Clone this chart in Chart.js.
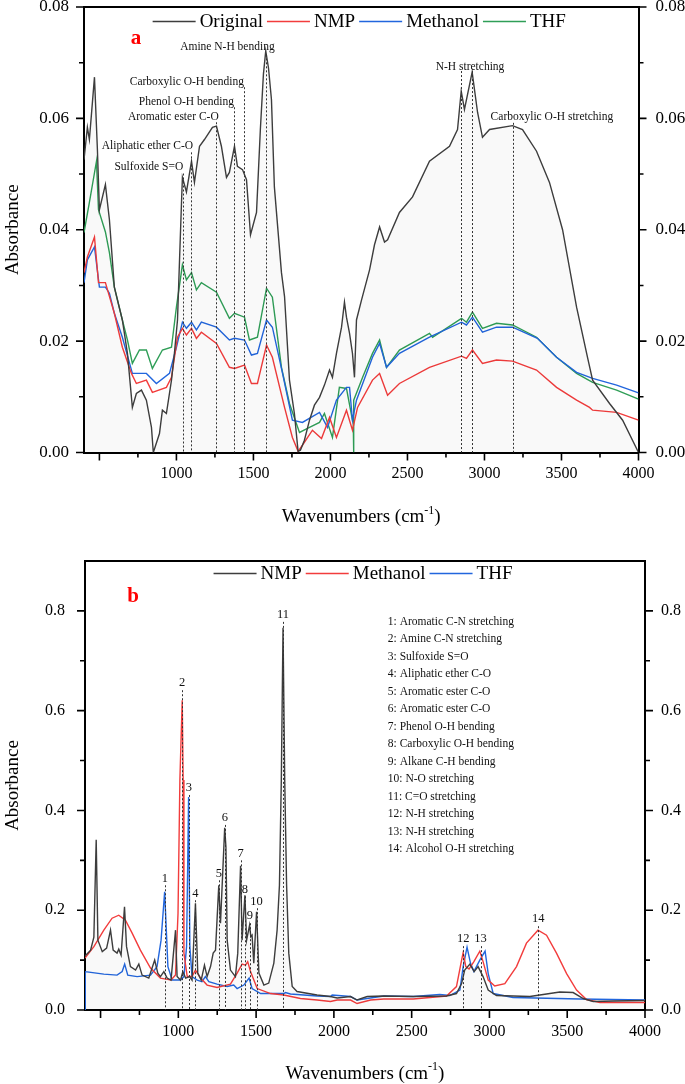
<!DOCTYPE html>
<html lang="en">
<head>
<meta charset="UTF-8">
<title>FTIR spectra</title>
<script src="https://cdn.jsdelivr.net/npm/chart.js@4"></script>
<style>
  body { margin: 0; background: #fff; }
  .panel { position: relative; width: 685px; }
  #panelA { height: 550px; }
  #panelB { height: 534px; }
</style>
</head>
<body>
<div class="panel" id="panelA"><canvas id="chartA"></canvas></div>
<div class="panel" id="panelB"><canvas id="chartB"></canvas></div>

<script>
// ---------- panel a : wavenumber (cm-1) / absorbance ----------
const origWn = [400,422,435,468,487,500,539,565,597,649,682,714,740,773,805,838,850,890,909,935,968,987,1007,1033,1039,1065,1098,1117,1150,1182,1234,1260,1292,1325,1344,1377,1396,1429,1455,1481,1520,1545,1565,1580,1598,1617,1636,1682,1702,1734,1766,1790,1805,1831,1864,1896,1929,1961,1994,2013,2039,2072,2091,2104,2124,2143,2156,2169,2202,2254,2286,2319,2351,2371,2448,2533,2643,2773,2825,2849,2870,2920,2955,2987,3033,3182,3247,3338,3422,3507,3598,3669,3702,3812,3897,4000];
const origAbs = [0.0526,0.0584,0.0562,0.0674,0.0544,0.0436,0.0481,0.0418,0.0297,0.0238,0.0178,0.0081,0.0106,0.0112,0.0094,0.0045,0.0,0.0034,0.0076,0.0070,0.0130,0.0178,0.0238,0.0449,0.0494,0.0468,0.0523,0.0485,0.0550,0.0562,0.0584,0.0586,0.0550,0.0494,0.0503,0.0550,0.0514,0.0508,0.0490,0.0391,0.0431,0.0580,0.0680,0.0721,0.0690,0.0634,0.0477,0.0323,0.0280,0.0130,0.0070,0.0002,0.0004,0.0022,0.0058,0.0085,0.0099,0.0121,0.0148,0.0135,0.0178,0.0225,0.0270,0.0243,0.0214,0.0178,0.0135,0.0238,0.0274,0.0328,0.0373,0.0405,0.0378,0.0382,0.0431,0.0459,0.0523,0.0550,0.0580,0.0649,0.0616,0.0683,0.0611,0.0566,0.0580,0.0587,0.0580,0.0541,0.0485,0.0400,0.0261,0.0171,0.0130,0.0088,0.0058,0.0];

const nmpWnA = [400,422,468,494,539,597,649,708,740,805,844,935,968,1007,1039,1065,1098,1130,1162,1260,1344,1377,1442,1487,1526,1585,1623,1702,1753,1790,1818,1883,1942,1994,2039,2104,2143,2176,2273,2319,2371,2448,2643,2851,2883,2922,2987,3078,3182,3338,3468,3598,3682,3702,3858,4000];
const nmpAbsA = [0.0323,0.0351,0.0387,0.0305,0.0305,0.0250,0.0189,0.0142,0.0124,0.0130,0.0108,0.0117,0.0135,0.0207,0.0223,0.0211,0.0223,0.0205,0.0216,0.0196,0.0153,0.0151,0.0157,0.0124,0.0124,0.0193,0.0171,0.0081,0.0027,0.0002,0.0013,0.0040,0.0025,0.0063,0.0027,0.0076,0.0040,0.0081,0.0130,0.0142,0.0103,0.0124,0.0153,0.0173,0.0169,0.0184,0.0160,0.0166,0.0164,0.0148,0.0117,0.0094,0.0081,0.0076,0.0072,0.0058];

const methWnA = [400,422,468,500,539,565,597,649,714,805,870,955,1000,1039,1065,1098,1130,1162,1260,1344,1377,1442,1487,1526,1585,1623,1689,1753,1818,1929,1981,2039,2104,2124,2143,2169,2273,2319,2364,2448,2643,2851,2883,2922,2987,3078,3182,3344,3468,3598,3702,3858,4000];
const methAbsA = [0.0305,0.0346,0.0369,0.0297,0.0297,0.0286,0.0250,0.0207,0.0142,0.0142,0.0124,0.0142,0.0189,0.0234,0.0223,0.0234,0.0220,0.0234,0.0225,0.0202,0.0205,0.0202,0.0175,0.0178,0.0238,0.0225,0.0142,0.0058,0.0054,0.0072,0.0045,0.0094,0.0117,0.0117,0.0058,0.0094,0.0171,0.0196,0.0153,0.0178,0.0207,0.0234,0.0229,0.0243,0.0216,0.0225,0.0225,0.0205,0.0171,0.0144,0.0133,0.0121,0.0107];

const thfWnA = [400,435,481,494,539,565,597,649,682,714,760,805,844,909,968,1000,1039,1065,1098,1130,1162,1260,1344,1377,1442,1474,1526,1585,1623,1682,1734,1799,1864,1929,1961,2013,2058,2104,2143,2148,2150,2152,2209,2273,2319,2364,2448,2643,2663,2851,2883,2922,2987,3078,3182,3338,3468,3598,3702,3858,4000];
const thfAbsA = [0.0395,0.0449,0.0523,0.0436,0.0396,0.0359,0.0297,0.0238,0.0202,0.0160,0.0184,0.0184,0.0151,0.0184,0.0189,0.0261,0.0337,0.0310,0.0323,0.0292,0.0305,0.0288,0.0241,0.0250,0.0243,0.0202,0.0207,0.0295,0.0279,0.0153,0.0088,0.0036,0.0045,0.0054,0.0070,0.0027,0.0117,0.0115,0.0058,0.0055,0.0,0.0094,0.0135,0.0178,0.0202,0.0153,0.0184,0.0214,0.0207,0.0241,0.0234,0.0252,0.0223,0.0232,0.0229,0.0207,0.0171,0.0142,0.0126,0.0112,0.0096];

// band markers of panel a (dashed lines) and their labels
const markWnA  = [1040, 1097, 1260, 1377, 1440, 1580, 2849, 2920, 3182];
const markTopA = [0.0501, 0.0539, 0.0593, 0.0620, 0.0656, 0.0715, 0.0685, 0.0685, 0.0592];
const bandTextA = ['Sulfoxide S=O', 'Aliphatic ether C-O', 'Aromatic ester C-O', 'Phenol O-H bending',
                   'Carboxylic O-H bending', 'Amine N-H bending', 'N-H stretching', 'Carboxylic O-H stretching'];
const bandWnA  = [821, 812, 980, 1065, 1068, 1331, 2906, 3438];
const bandAbsA = [0.0512, 0.0550, 0.0602, 0.0629, 0.0665, 0.0728, 0.0692, 0.0602];

// ---------- panel b ----------
const nmpWnB = [400,436,457,472,483,511,539,564,581,606,617,632,654,667,692,725,746,767,810,848,868,885,907,928,953,982,992,1014,1029,1047,1073,1088,1110,1125,1147,1168,1185,1207,1224,1239,1260,1271,1298,1306,1314,1335,1367,1382,1400,1410,1428,1439,1458,1466,1474,1485,1503,1518,1550,1581,1614,1635,1650,1662,1673,1684,1696,1710,1732,1763,1892,1978,2021,2107,2149,2214,2321,2510,2724,2788,2821,2841,2874,2902,2927,2959,2992,3045,3260,3367,3452,3538,3603,3667,3800,4000];
const nmpAbsB = [0.108,0.120,0.146,0.341,0.140,0.117,0.124,0.160,0.120,0.114,0.122,0.110,0.207,0.127,0.087,0.080,0.092,0.070,0.064,0.100,0.074,0.067,0.077,0.064,0.060,0.160,0.067,0.060,0.077,0.064,0.067,0.060,0.214,0.074,0.060,0.090,0.067,0.087,0.114,0.120,0.250,0.174,0.365,0.327,0.140,0.080,0.067,0.114,0.289,0.140,0.230,0.140,0.170,0.147,0.150,0.094,0.197,0.074,0.050,0.054,0.094,0.160,0.250,0.460,0.766,0.460,0.250,0.114,0.047,0.037,0.030,0.027,0.024,0.027,0.020,0.027,0.028,0.027,0.028,0.033,0.053,0.080,0.092,0.077,0.087,0.067,0.040,0.029,0.027,0.032,0.036,0.035,0.023,0.017,0.018,0.019];

const methWnB = [400,457,521,574,617,660,703,756,821,885,953,982,998,1010,1025,1031,1036,1057,1088,1110,1143,1185,1249,1335,1378,1410,1432,1446,1464,1507,1593,1678,1785,1892,1978,2021,2107,2149,2236,2321,2510,2724,2788,2821,2831,2848,2869,2900,2938,2959,2992,3034,3099,3174,3238,3312,3367,3431,3496,3560,3624,3711,4000];
const methAbsB = [0.104,0.127,0.160,0.184,0.190,0.180,0.154,0.120,0.084,0.064,0.060,0.070,0.194,0.461,0.621,0.461,0.114,0.067,0.067,0.080,0.064,0.050,0.045,0.052,0.074,0.092,0.090,0.097,0.077,0.043,0.033,0.030,0.023,0.020,0.017,0.020,0.020,0.013,0.020,0.022,0.022,0.028,0.047,0.100,0.115,0.087,0.082,0.097,0.118,0.097,0.060,0.048,0.053,0.087,0.134,0.160,0.150,0.114,0.073,0.040,0.021,0.015,0.015];

const thfWnB = [400,401,403,521,606,639,655,675,735,821,863,889,912,920,933,960,1014,1036,1053,1066,1074,1088,1121,1152,1174,1196,1249,1314,1356,1378,1421,1455,1474,1529,1678,1689,1721,1892,1978,1989,2107,2149,2321,2510,2681,2745,2810,2831,2856,2878,2900,2938,2972,2992,3024,3152,3581,4000];
const thfAbsB = [0,0.078,0.077,0.072,0.070,0.077,0.092,0.070,0.067,0.070,0.087,0.140,0.237,0.180,0.087,0.060,0.060,0.067,0.127,0.427,0.127,0.067,0.060,0.057,0.067,0.057,0.052,0.047,0.050,0.043,0.050,0.064,0.043,0.033,0.033,0.035,0.032,0.028,0.027,0.030,0.027,0.020,0.028,0.027,0.031,0.029,0.040,0.087,0.126,0.094,0.077,0.100,0.118,0.073,0.033,0.025,0.022,0.020];

const markWnB  = [913, 1025, 1067, 1110, 1260, 1299, 1400, 1428, 1460, 1503, 1673, 2831, 2943, 3313];
const markTopB = [0.25, 0.641, 0.431, 0.22, 0.26, 0.371, 0.30, 0.228, 0.174, 0.204, 0.778, 0.128, 0.128, 0.168];
const markNumB = ['1','2','3','4','5','6','7','8','9','10','11','12','13','14'];
const bandListB = ['1: Aromatic C-N stretching', '2: Amine C-N stretching', '3: Sulfoxide S=O',
  '4: Aliphatic ether C-O', '5: Aromatic ester C-O', '6: Aromatic ester C-O', '7: Phenol O-H bending',
  '8: Carboxylic O-H bending', '9: Alkane C-H bending', '10: N-O stretching', '11: C=O stretching',
  '12: N-H stretching', '13: N-H stretching', '14: Alcohol O-H stretching'];

const SERIF = '"Liberation Serif", "Times New Roman", serif';
const C_DARK = '#3d3d3d', C_RED = '#f23c3c', C_BLUE = '#2266dd', C_GREEN = '#2f9e57';

Chart.defaults.font.family = SERIF;
Chart.defaults.color = '#000';

function pts(xs, ys) { return xs.map((x, i) => ({ x: x, y: ys[i] })); }

function series(label, wn, abs, color, filled) {
  return {
    label: label, data: pts(wn, abs), borderColor: color, borderWidth: 1.4,
    pointRadius: 0, tension: 0, fill: filled ? 'origin' : false,
    backgroundColor: filled ? 'rgba(0,0,0,0.025)' : 'transparent'
  };
}

// draws frame top, tick marks, markers, labels, legend and titles
const decoPlugin = {
  id: 'deco',
  afterDraw(chart, args, o) {
    const { ctx, chartArea: a } = chart;
    const xs = chart.scales.x, ys = chart.scales.y;
    ctx.save();
    ctx.strokeStyle = '#000';
    ctx.lineWidth = 2;
    ctx.beginPath();
    ctx.moveTo(a.left - 1, a.top); ctx.lineTo(a.right + 1, a.top);
    ctx.stroke();

    ctx.lineWidth = 1.6;
    ctx.beginPath();
    for (let v = 500; v <= 4000; v += 250) {
      const px = xs.getPixelForValue(v), len = v % 500 === 0 ? 8 : 5;
      ctx.moveTo(px, a.bottom); ctx.lineTo(px, a.bottom + len);
    }
    for (let i = 0; i <= o.yCount; i++) {
      const py = ys.getPixelForValue(i * o.yStep), len = i % 2 === 0 ? 8 : 5;
      ctx.moveTo(a.left - len, py); ctx.lineTo(a.left, py);
      ctx.moveTo(a.right, py); ctx.lineTo(a.right + len, py);
    }
    ctx.stroke();

    // dashed band markers
    ctx.setLineDash([2, 2]);
    ctx.lineWidth = 1;
    ctx.strokeStyle = '#333';
    o.markWn.forEach((w, i) => {
      const px = Math.round(xs.getPixelForValue(w)) + 0.5;
      ctx.beginPath();
      ctx.moveTo(px, ys.getPixelForValue(o.markTop[i]));
      ctx.lineTo(px, a.bottom);
      ctx.stroke();
    });
    ctx.setLineDash([]);

    ctx.fillStyle = '#111';
    ctx.textAlign = 'center';
    ctx.textBaseline = 'middle';
    if (o.markNum) {
      ctx.font = '12.5px ' + SERIF;
      o.markNum.forEach((t, i) => {
        ctx.fillText(t, xs.getPixelForValue(o.markWn[i]), ys.getPixelForValue(o.markTop[i]) - 7);
      });
    }
    if (o.bandText) {
      ctx.font = '11.5px ' + SERIF;
      o.bandText.forEach((t, i) => {
        ctx.fillText(t, xs.getPixelForValue(o.bandWn[i]), ys.getPixelForValue(o.bandAbs[i]));
      });
    }
    if (o.list) {
      ctx.font = '11.5px ' + SERIF;
      ctx.textAlign = 'left';
      const x0 = xs.getPixelForValue(o.listWn), y0 = ys.getPixelForValue(o.listAbs);
      o.list.forEach((t, i) => ctx.fillText(t, x0, y0 + i * 17.5));
    }

    // legend inside the plot
    ctx.font = '19px ' + SERIF;
    ctx.textAlign = 'left';
    const ds = chart.data.datasets;
    let total = 0;
    ds.forEach(d => { total += 43 + 4 + ctx.measureText(d.label).width; });
    total += 4 * (ds.length - 1);
    let lx = (a.left + a.right) / 2 - 2 - total / 2;
    const ly = a.top + o.legendDy;
    ds.forEach(d => {
      ctx.strokeStyle = d.borderColor; ctx.lineWidth = 1.3;
      ctx.beginPath(); ctx.moveTo(lx, ly); ctx.lineTo(lx + 43, ly); ctx.stroke();
      ctx.fillStyle = '#000';
      ctx.fillText(d.label, lx + 47, ly + 1);
      lx += 47 + ctx.measureText(d.label).width + 4;
    });

    // panel letter
    ctx.fillStyle = '#ff0000';
    ctx.font = 'bold 21px ' + SERIF;
    ctx.textAlign = 'center';
    ctx.fillText(o.letter, o.letterX, a.top + o.letterDy);

    // axis titles
    ctx.fillStyle = '#000';
    ctx.font = '19px ' + SERIF;
    ctx.save();
    ctx.translate(13, (a.top + a.bottom) / 2);
    ctx.rotate(-Math.PI / 2);
    ctx.fillText('Absorbance', 0, 0);
    ctx.restore();

    const t1 = 'Wavenumbers (cm', t2 = '-1', t3 = ')';
    ctx.font = '19px ' + SERIF;
    const w1 = ctx.measureText(t1).width, w3 = ctx.measureText(t3).width;
    ctx.font = '12px ' + SERIF;
    const w2 = ctx.measureText(t2).width;
    let tx = (a.left + a.right) / 2 - (w1 + w2 + w3) / 2;
    const ty = a.bottom + o.titleDy;
    ctx.textAlign = 'left';
    ctx.font = '19px ' + SERIF;
    ctx.fillText(t1, tx, ty);
    ctx.font = '12px ' + SERIF;
    ctx.fillText(t2, tx + w1, ty - 7);
    ctx.font = '19px ' + SERIF;
    ctx.fillText(t3, tx + w1 + w2, ty);
    ctx.restore();
  }
};

function makeChart(id, datasets, cfg) {
  const yTicks = (pad) => ({
    stepSize: cfg.yStep, padding: pad, font: { size: cfg.yFont },
    callback: v => Math.round(v / cfg.yStep) % 2 === 0 ? v.toFixed(cfg.yDigits) : ''
  });
  const yScale = (pos, width, pad) => ({
    type: 'linear', position: pos, min: 0, max: cfg.yMax,
    grid: { display: false, drawTicks: false },
    border: { display: true, width: 2, color: '#000' },
    ticks: yTicks(pad),
    afterFit: s => { s.width = width; s.paddingTop = 0; s.paddingBottom = 0; }
  });
  return new Chart(document.getElementById(id), {
    type: 'line',
    data: { datasets: datasets },
    options: {
      responsive: true, maintainAspectRatio: false, animation: false, devicePixelRatio: 1,
      layout: { padding: { top: cfg.top, left: 0, right: 0, bottom: 0 } },
      scales: {
        x: {
          type: 'linear', min: 400, max: 4000,
          grid: { display: false, drawTicks: false },
          border: { display: true, width: 2, color: '#000' },
          ticks: { stepSize: 250, autoSkip: false, maxRotation: 0, padding: 12, font: { size: 16 },
                   callback: v => v % 500 === 0 ? String(v) : '' },
          afterFit: s => { s.height = cfg.xHeight; s.paddingLeft = 0; s.paddingRight = 0; }
        },
        y: yScale('left', cfg.left, cfg.padL),
        y2: yScale('right', cfg.right, cfg.padR)
      },
      plugins: { legend: { display: false }, tooltip: { enabled: false }, deco: cfg.deco }
    },
    plugins: [decoPlugin]
  });
}

makeChart('chartA', [
  series('Original', origWn, origAbs, C_DARK, true),
  series('NMP', nmpWnA, nmpAbsA, C_RED, false),
  series('Methanol', methWnA, methAbsA, C_BLUE, false),
  series('THF', thfWnA, thfAbsA, C_GREEN, false)
], {
  top: 7, xHeight: 97.5, left: 84, right: 46.5, padL: 15, padR: 17,
  yMax: 0.08, yStep: 0.01, yDigits: 2, yFont: 17,
  deco: { yCount: 8, yStep: 0.01, markWn: markWnA, markTop: markTopA,
          bandText: bandTextA, bandWn: bandWnA, bandAbs: bandAbsA,
          legendDy: 14.5, letter: 'a', letterX: 136, letterDy: 32, titleDy: 65 }
});

makeChart('chartB', [
  series('NMP', nmpWnB, nmpAbsB, C_DARK, true),
  series('Methanol', methWnB, methAbsB, C_RED, false),
  series('THF', thfWnB, thfAbsB, C_BLUE, false)
], {
  top: 11, xHeight: 74, left: 85, right: 40, padL: 20, padR: 16,
  yMax: 0.9, yStep: 0.1, yDigits: 1, yFont: 16,
  deco: { yCount: 8, yStep: 0.1, markWn: markWnB, markTop: markTopB, markNum: markNumB,
          list: bandListB, listWn: 2347, listAbs: 0.778,
          legendDy: 12.5, letter: 'b', letterX: 133, letterDy: 36, titleDy: 64 }
});
</script>
</body>
</html>
